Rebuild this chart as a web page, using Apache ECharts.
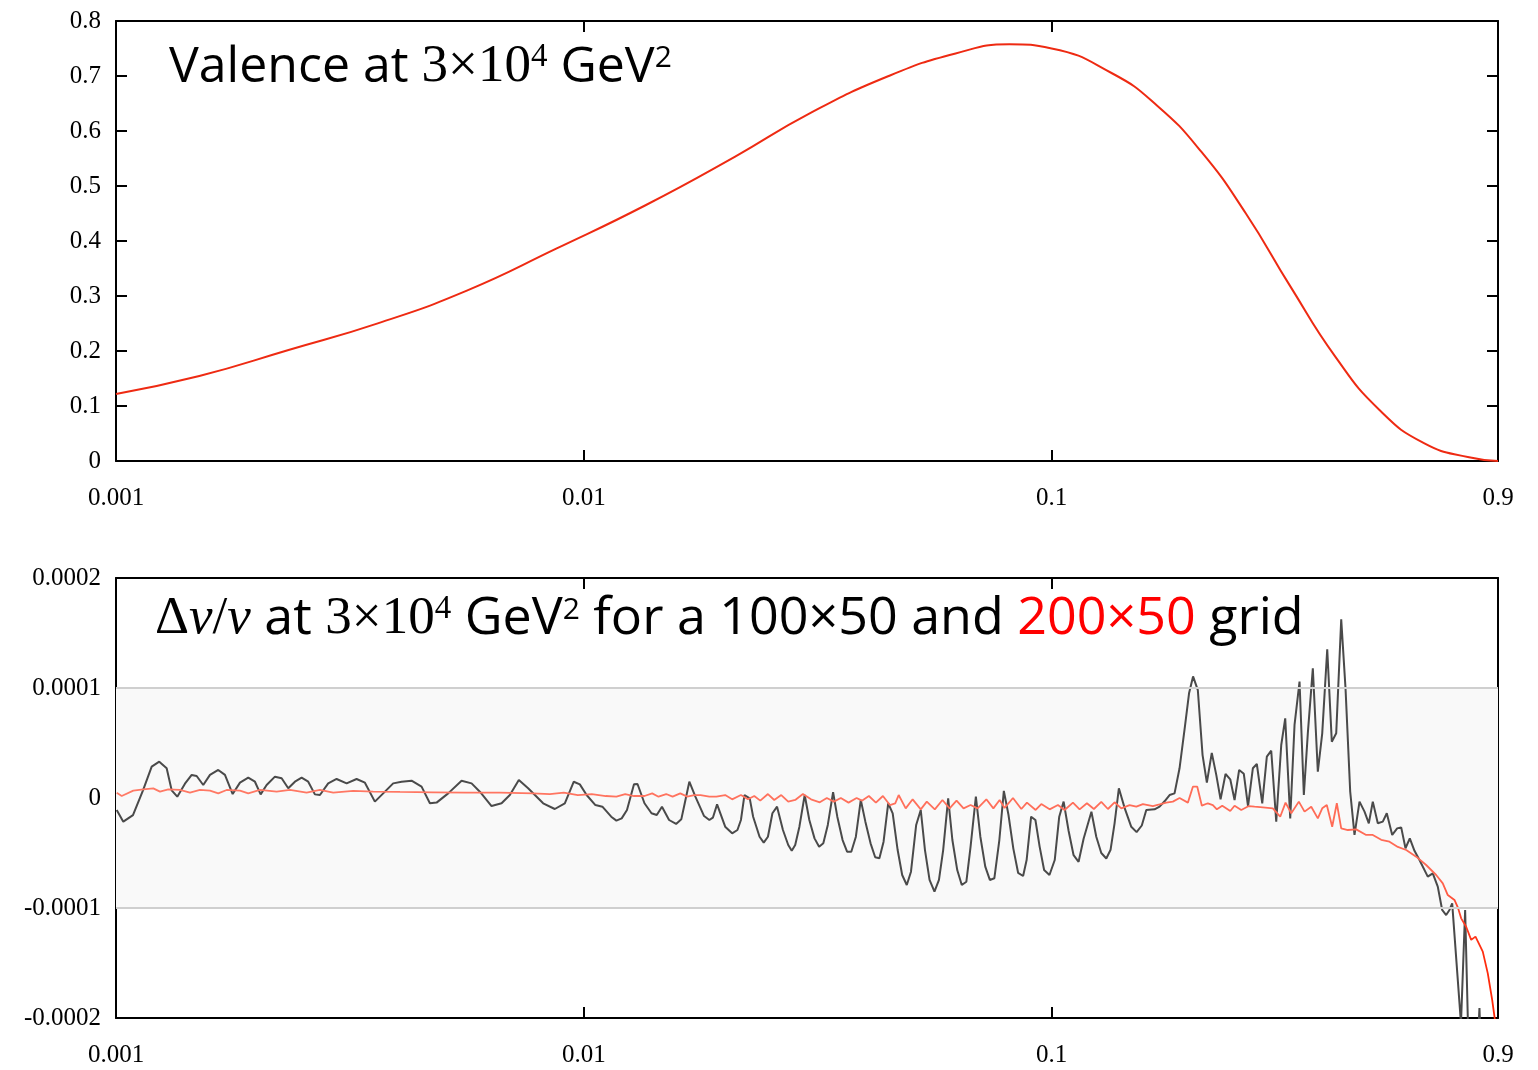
<!DOCTYPE html>
<html><head><meta charset="utf-8">
<script src="https://cdn.jsdelivr.net/npm/echarts@6/dist/echarts.min.js"></script>
<style>html,body{margin:0;padding:0;background:#fff}#c{width:1538px;height:1070px}</style>
</head><body><div id="c"></div>
<script>
// ---- Top panel: valence distribution ----
const topX = [0.001, 0.001507, 0.002338, 0.003627, 0.005623, 0.00873, 0.01355, 0.02102, 0.0304, 0.04484, 0.06234, 0.08125, 0.1, 0.1346, 0.1677, 0.2089, 0.2602, 0.3241, 0.404, 0.5022, 0.6266, 0.7804, 0.9];
const topY = [0.122, 0.1545, 0.2018, 0.2503, 0.3097, 0.386, 0.465, 0.553, 0.632, 0.700, 0.741, 0.7576, 0.750, 0.705, 0.647, 0.5624, 0.450, 0.317, 0.1897, 0.0927, 0.032, 0.0067, 0.0];

// ---- Bottom panel: relative difference (x given as log10(x), y in units of 1e-4) ----
const blackXLog10 = [
-2.9985,-2.9844,-2.9637,-2.9423,-2.9237,-2.9075,-2.8917,-2.8810,-2.8690,-2.8526,
-2.8382,-2.8276,-2.8135,-2.7991,-2.7814,-2.7671,-2.7506,-2.7350,-2.7173,-2.7030,
-2.6908,-2.6780,-2.6602,-2.6459,-2.6318,-2.6175,-2.6032,-2.5891,-2.5748,-2.5641,
-2.5464,-2.5284,-2.5070,-2.4857,-2.4679,-2.4466,-2.4288,-2.4075,-2.3895,-2.3682,
-2.3468,-2.3290,-2.3147,-2.2899,-2.2613,-2.2399,-2.2222,-2.1972,-2.1758,-2.1581,
-2.1389,-2.1190,-2.0869,-2.0620,-2.0406,-2.0214,-2.0085,-1.9940,-1.9752,-1.9603,
-1.9414,-1.9303,-1.9190,-1.9077,-1.8927,-1.8852,-1.8703,-1.8553,-1.8440,-1.8329,
-1.8177,-1.8027,-1.7916,-1.7842,-1.7744,-1.7615,-1.7429,-1.7316,-1.7241,-1.7151,
-1.6978,-1.6829,-1.6716,-1.6641,-1.6566,-1.6453,-1.6380,-1.6243,-1.6154,-1.6064,
-1.5968,-1.5869,-1.5743,-1.5630,-1.5555,-1.5481,-1.5391,-1.5278,-1.5179,-1.5068,
-1.4970,-1.4880,-1.4784,-1.4671,-1.4581,-1.4468,-1.4372,-1.4282,-1.4184,-1.4079,
-1.3981,-1.3870,-1.3771,-1.3681,-1.3592,-1.3493,-1.3397,-1.3291,-1.3194,-1.3096,
-1.3006,-1.2895,-1.2797,-1.2707,-1.2609,-1.2504,-1.2408,-1.2318,-1.2211,-1.2121,
-1.2017,-1.1920,-1.1822,-1.1732,-1.1619,-1.1523,-1.1418,-1.1320,-1.1224,-1.1117,
-1.1021,-1.0923,-1.0818,-1.0716,-1.0609,-1.0534,-1.0438,-1.0346,-1.0256,-1.0160,
-1.0046,-0.9933,-0.9837,-0.9743,-0.9636,-0.9530,-0.9423,-0.9316,-0.9149,-0.9045,
-0.8938,-0.8831,-0.8739,-0.8654,-0.8562,-0.8440,-0.8297,-0.8183,-0.8072,-0.7976,
-0.7799,-0.7692,-0.7585,-0.7478,-0.7372,-0.7265,-0.7147,-0.7062,-0.6976,-0.6874,
-0.6773,-0.6681,-0.6576,-0.6480,-0.6388,-0.6282,-0.6181,-0.6089,-0.5991,-0.5891,
-0.5801,-0.5698,-0.5613,-0.5497,-0.5399,-0.5305,-0.5198,-0.5091,-0.5006,-0.4899,
-0.4807,-0.4700,-0.4608,-0.4523,-0.4416,-0.4309,-0.4215,-0.4108,-0.4010,-0.3916,
-0.3809,-0.3717,-0.3617,-0.3525,-0.3418,-0.3311,-0.3219,-0.3134,-0.3027,-0.2920,
-0.2835,-0.2719,-0.2613,-0.2527,-0.2435,-0.2343,-0.2243,-0.2136,-0.1959,-0.1852,
-0.1745,-0.1651,-0.1566,-0.1495,-0.1437,-0.1249,-0.1160,-0.1100,-0.0897,-0.0854,
-0.0822,-0.0458];
const blackY_e4 = [
-0.11,-0.215,-0.155,0.07,0.285,0.33,0.27,0.07,0.012,0.13,
0.21,0.20,0.118,0.21,0.255,0.21,0.036,0.14,0.185,0.148,
0.033,0.118,0.194,0.18,0.088,0.148,0.185,0.148,0.033,0.027,
0.133,0.173,0.133,0.173,0.139,-0.033,0.042,0.133,0.148,0.157,
0.103,-0.048,-0.042,0.042,0.157,0.133,0.057,-0.073,-0.048,0.027,
0.164,0.088,-0.048,-0.1,-0.048,0.148,0.124,0.027,-0.064,-0.079,
-0.17,-0.206,-0.185,-0.109,0.124,0.127,-0.048,-0.139,-0.155,-0.079,
-0.2,-0.236,-0.194,-0.048,0.148,0.012,-0.164,-0.2,-0.179,-0.058,
-0.261,-0.321,-0.291,-0.2,0.027,-0.003,-0.17,-0.352,-0.406,-0.352,
-0.139,-0.079,-0.291,-0.427,-0.479,-0.427,-0.261,0.027,-0.2,-0.367,
-0.443,-0.412,-0.245,0.052,-0.17,-0.382,-0.488,-0.488,-0.352,-0.018,
-0.215,-0.412,-0.539,-0.548,-0.397,-0.048,-0.139,-0.473,-0.7,-0.791,
-0.67,-0.245,-0.109,-0.473,-0.745,-0.852,-0.745,-0.473,-0.003,-0.382,
-0.655,-0.791,-0.761,-0.442,0.012,-0.352,-0.624,-0.745,-0.73,-0.382,
0.065,-0.15,-0.46,-0.68,-0.709,-0.564,-0.17,-0.2,-0.442,-0.655,
-0.7,-0.564,-0.17,-0.033,-0.3,-0.52,-0.58,-0.37,-0.125,-0.352,
-0.5,-0.55,-0.47,-0.23,0.088,-0.09,-0.262,-0.31,-0.25,-0.109,
-0.103,-0.079,-0.03,0.027,0.042,0.27,0.66,0.952,1.105,0.98,
0.39,0.139,0.41,0.21,-0.012,0.218,0.17,-0.018,0.255,0.22,
-0.075,0.27,0.309,-0.048,0.376,0.43,-0.215,0.482,0.724,-0.185,
0.664,1.058,0.027,0.588,1.179,0.239,0.588,1.352,0.512,0.588,
1.624,0.997,0.058,-0.336,-0.033,-0.124,-0.23,-0.033,-0.23,-0.215,
-0.139,-0.336,-0.276,-0.267,-0.457,-0.367,-0.48,-0.564,-0.715,-0.685,
-0.806,-1.018,-1.064,-1.018,-0.958,-2.05,-1.018,-2.05,-2.3,-1.91,
-2.3,-3.0];

const redXLog10 = [
-2.9985,-2.9878,-2.9630,-2.9417,-2.9203,-2.9060,-2.8882,-2.8632,-2.8419,-2.8205,
-2.7991,-2.7814,-2.7635,-2.7350,-2.7173,-2.6923,-2.6566,-2.6282,-2.5925,-2.5641,
-2.5357,-2.4929,-2.4502,-2.3931,-2.3220,-2.2506,-2.1795,-2.1083,-2.0726,-2.0427,
-2.0128,-1.9829,-1.9530,-1.9303,-1.9115,-1.8927,-1.8703,-1.8538,-1.8403,-1.8239,
-1.8102,-1.7938,-1.7788,-1.7639,-1.7504,-1.7316,-1.7166,-1.6978,-1.6829,-1.6641,
-1.6491,-1.6356,-1.6228,-1.6064,-1.5929,-1.5779,-1.5630,-1.5481,-1.5316,-1.5143,
-1.4955,-1.4805,-1.4655,-1.4506,-1.4341,-1.4168,-1.4055,-1.3906,-1.3756,-1.3606,
-1.3457,-1.3343,-1.3269,-1.3119,-1.2970,-1.2797,-1.2668,-1.2497,-1.2333,-1.2181,
-1.2032,-1.1882,-1.1732,-1.1583,-1.1395,-1.1245,-1.1111,-1.1004,-1.0826,-1.0647,
-1.0527,-1.0341,-1.0220,-1.0042,-0.9865,-0.9722,-0.9544,-0.9401,-0.9245,-0.9096,
-0.8938,-0.8796,-0.8654,-0.8510,-0.8333,-0.8189,-0.8048,-0.7835,-0.7692,-0.7549,
-0.7408,-0.7265,-0.7087,-0.6980,-0.6886,-0.6788,-0.6660,-0.6553,-0.6467,-0.6352,
-0.6181,-0.6089,-0.5946,-0.5784,-0.5662,-0.5484,-0.5271,-0.5113,-0.4999,-0.4877,
-0.4715,-0.4593,-0.4450,-0.4309,-0.4215,-0.4117,-0.4002,-0.3903,-0.3809,-0.3668,
-0.3489,-0.3275,-0.3134,-0.2954,-0.2777,-0.2599,-0.2420,-0.2206,-0.1993,-0.1779,
-0.1638,-0.1531,-0.1388,-0.1317,-0.1245,-0.1138,-0.1031,-0.0939,-0.0783,-0.0676,
-0.0582,-0.0533,-0.0458];
const redY_e4 = [
0.048,0.018,0.067,0.079,0.088,0.058,0.079,0.073,0.048,0.073,
0.067,0.042,0.073,0.067,0.042,0.073,0.058,0.073,0.048,0.073,
0.048,0.064,0.058,0.055,0.052,0.048,0.048,0.042,0.035,0.048,
0.027,0.036,0.018,0.012,0.036,0.018,0.018,0.042,0.012,0.036,
0.012,0.042,0.012,0.027,0.027,0.012,0.012,0.027,-0.012,0.027,
-0.012,0.018,-0.024,0.036,-0.018,0.027,-0.033,-0.018,0.036,-0.012,
-0.039,0.0,-0.033,0.0,-0.042,0.0,-0.024,0.018,-0.042,0.018,
-0.064,-0.048,0.027,-0.094,-0.012,-0.103,-0.033,-0.103,-0.018,-0.094,
-0.024,-0.094,-0.064,-0.094,-0.012,-0.094,-0.018,-0.09,0.0,-0.1,
-0.042,-0.109,-0.055,-0.103,-0.064,-0.109,-0.042,-0.103,-0.048,-0.1,
-0.036,-0.1,-0.039,-0.094,-0.064,-0.079,-0.055,-0.073,-0.058,-0.042,
-0.033,0.0,-0.042,0.103,0.103,-0.07,-0.048,-0.064,-0.103,-0.07,
-0.118,-0.07,-0.109,-0.073,-0.079,-0.085,-0.094,-0.17,-0.042,-0.139,
-0.033,-0.124,-0.079,-0.185,-0.094,-0.064,-0.261,-0.048,-0.276,-0.291,
-0.285,-0.336,-0.336,-0.38,-0.397,-0.445,-0.473,-0.533,-0.609,-0.7,
-0.776,-0.882,-0.927,-0.994,-1.094,-1.17,-1.29,-1.26,-1.397,-1.594,
-1.836,-1.988,-2.2];

const xMin = 0.001, xMax = 0.9;
const topYMin = 0, topYMax = 0.8, topYStep = 0.1;
const botYMin = -0.0002, botYMax = 0.0002, botYStep = 0.0001;
const bandLimit = 0.0001;

const chart = echarts.init(document.getElementById('c'), null, {renderer: 'canvas'});
const serif = 'Liberation Serif';
const axisLine = {show: true, onZero: false, lineStyle: {color: '#000', width: 2}};
const tick = {show: true, inside: true, length: 11, lineStyle: {color: '#000', width: 2}};
const xFmt = v => String(+(+v).toPrecision(2));
const lab = {fontFamily: serif, fontSize: 25, color: '#000'};

function xAxes(g) {
  return [
    {gridIndex: g, type: 'log', logBase: 10, min: xMin, max: xMax, position: 'bottom',
     axisLine, axisTick: tick, splitLine: {show: false},
     axisLabel: Object.assign({margin: 25, formatter: xFmt, showMinLabel: true, showMaxLabel: true}, lab)},
    {gridIndex: g, type: 'log', logBase: 10, min: xMin, max: xMax, position: 'top',
     axisLine, axisTick: tick, splitLine: {show: false}, axisLabel: {show: false}}
  ];
}
function yAxes(g, mn, mx, st, fmt) {
  return [
    {gridIndex: g, type: 'value', min: mn, max: mx, interval: st, position: 'left',
     axisLine, axisTick: tick, splitLine: {show: false},
     axisLabel: Object.assign({margin: 15, formatter: fmt}, lab)},
    {gridIndex: g, type: 'value', min: mn, max: mx, interval: st, position: 'right',
     axisLine, axisTick: tick, splitLine: {show: false}, axisLabel: {show: false}}
  ];
}

const sans = 'Open Sans';
const richTop = {
  s: {fontFamily: sans, fontSize: 50, fill: '#000'},
  m: {fontFamily: serif, fontSize: 53, fill: '#000'},
  sup: {fontFamily: serif, fontSize: 33, fill: '#000', verticalAlign: 'top'},
  s2: {fontFamily: sans, fontSize: 30, fill: '#000', verticalAlign: 'top', padding: [2, 0, 0, 0]}
};
const richBottom = {
  s: {fontFamily: sans, fontSize: 52, fill: '#000'},
  red: {fontFamily: sans, fontSize: 52, fill: '#ff0000'},
  m: {fontFamily: serif, fontSize: 53, fill: '#000'},
  mi: {fontFamily: serif, fontSize: 53, fontStyle: 'italic', fill: '#000'},
  sup: {fontFamily: serif, fontSize: 33, fill: '#000', verticalAlign: 'top'},
  s2: {fontFamily: sans, fontSize: 30, fill: '#000', verticalAlign: 'top', padding: [2, 0, 0, 0]}
};

const option = {
  animation: false,
  backgroundColor: '#fff',
  grid: [
    {left: 116, top: 21, width: 1382, height: 440},
    {left: 116, top: 578, width: 1382, height: 440}
  ],
  xAxis: [...xAxes(0), ...xAxes(1)],
  yAxis: [
    ...yAxes(0, topYMin, topYMax, topYStep, v => Math.abs(v) < 1e-9 ? '0' : (+v).toFixed(1)),
    ...yAxes(1, botYMin, botYMax, botYStep, v => Math.abs(v) < 1e-12 ? '0' : (+v).toFixed(4))
  ],
  graphic: [
    {type: 'text', left: 169, top: 41, z: 100,
     style: {text: '{s|Valence at }{m|3×10}{sup|4}{s| GeV}{s2|2}', rich: richTop}},
    {type: 'text', left: 155, top: 593, z: 100,
     style: {text: '{m|Δ}{mi|v}{m|/}{mi|v}{s| at }{m|3×10}{sup|4}{s| GeV}{s2|2}{s| for a 100×50 and }{red|200×50}{s| grid}', rich: richBottom}}
  ],
  series: [
    {type: 'line', xAxisIndex: 0, yAxisIndex: 0, showSymbol: false, smooth: 0.5,
     data: topX.map((x, i) => [x, topY[i]]),
     lineStyle: {color: '#ee2a12', width: 2}},
    {type: 'line', xAxisIndex: 2, yAxisIndex: 2, showSymbol: false, clip: true,
     data: blackXLog10.map((l, i) => [Math.pow(10, l), blackY_e4[i] * 1e-4]),
     lineStyle: {color: '#4a4a4a', width: 2},
     markArea: {silent: true, itemStyle: {color: '#f9f9f9'},
       data: [[{yAxis: -bandLimit}, {yAxis: bandLimit}]]},
     markLine: {silent: true, symbol: 'none', precision: 8, label: {show: false},
       lineStyle: {color: '#cfcfcf', width: 2, type: 'solid'},
       data: [{yAxis: bandLimit}, {yAxis: -bandLimit}]}},
    {type: 'line', xAxisIndex: 2, yAxisIndex: 2, showSymbol: false, clip: true,
     data: redXLog10.map((l, i) => [Math.pow(10, l), redY_e4[i] * 1e-4]),
     lineStyle: {width: 1.8, color: new echarts.graphic.LinearGradient(0, 0, 1, 0, [
       {offset: 0, color: '#ff7a66'}, {offset: 0.955, color: '#ff6a55'},
       {offset: 0.975, color: '#ff3a20'}, {offset: 1, color: '#ff2200'}])}}
  ]
};
chart.setOption(option);
</script></body></html>
